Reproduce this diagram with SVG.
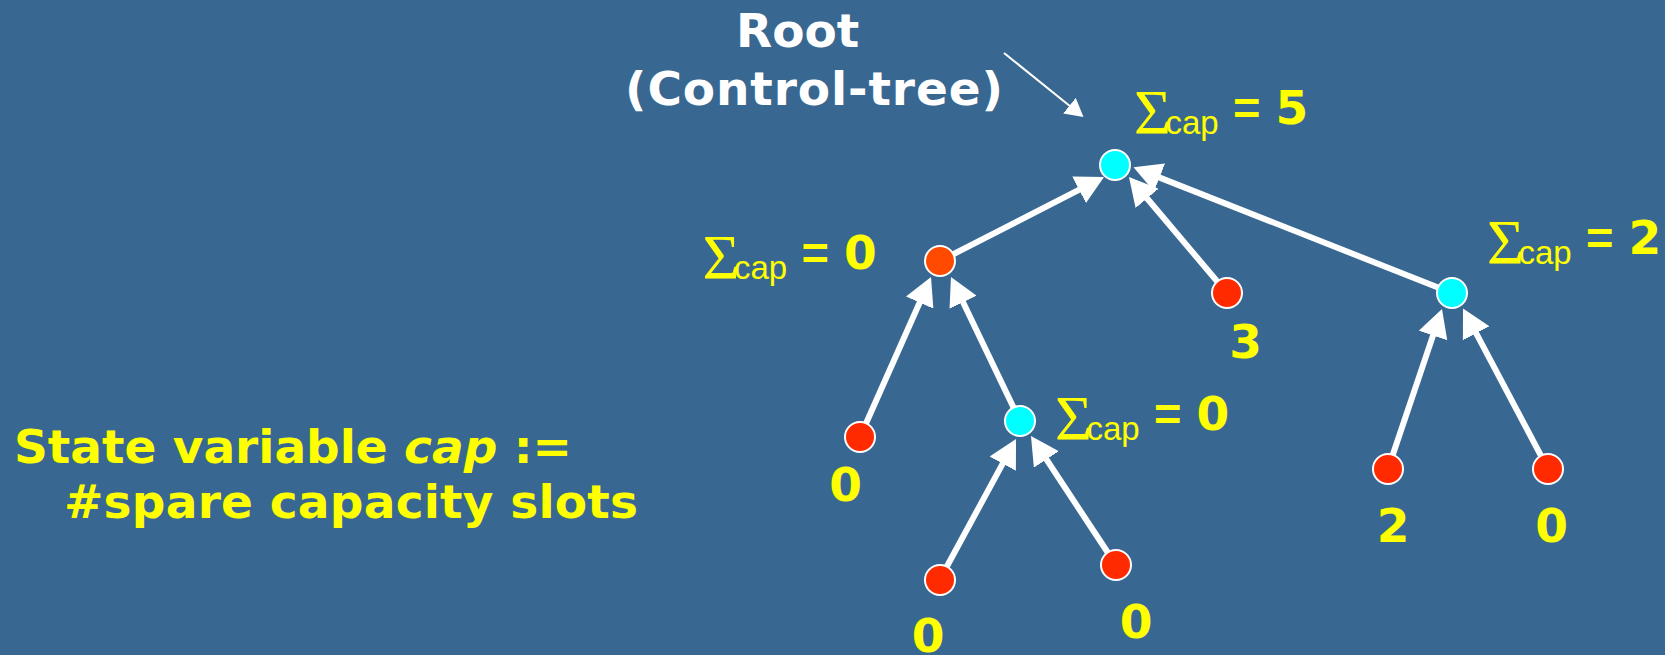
<svg xmlns="http://www.w3.org/2000/svg" width="1665" height="655" viewBox="0 0 1665 655">
  <defs>
    <style>
      .bold { font-family: "DejaVu Sans", "Liberation Sans", sans-serif; font-weight: bold; font-size: 47px; }
      .eq { font-family: "Liberation Sans", Arial, sans-serif; font-weight: bold; font-size: 47px; }
      .title { fill: #ffffff; }
      .yel { fill: #ffff00; }
      .sig { font-family: "Liberation Serif", serif; font-size: 64px; font-weight: normal; }
      .sub { font-family: "Liberation Sans", Arial, sans-serif; font-size: 33px; font-weight: normal; }
      .lbl { fill: #ffff00; }
      .edge { stroke: #ffffff; stroke-width: 6; fill: none; }
      .pointer { stroke: #ffffff; stroke-width: 2; fill: none; }
      .node { stroke: #ffffff; stroke-width: 2; }
      .cyan { fill: #00ffff; }
      .orange { fill: #ff4a00; }
      .red { fill: #ff2a00; }
    </style>
    <marker id="head" markerUnits="userSpaceOnUse" markerWidth="28" markerHeight="30" refX="8" refY="15" orient="auto">
      <path d="M0,0 L28,15 L0,30 z" fill="#ffffff"/>
    </marker>
    <marker id="thinhead" markerUnits="userSpaceOnUse" markerWidth="18" markerHeight="20" refX="8" refY="10" orient="auto">
      <path d="M0,0 L18,10 L0,20 z" fill="#ffffff"/>
    </marker>
  </defs>

  <rect x="0" y="0" width="1665" height="655" fill="#386891"/>

  <!-- caption -->
  <g id="caption">
    <text class="bold title" x="736" y="47">Root</text>
    <text class="bold title" x="625" y="105" textLength="378" lengthAdjust="spacing">(Control-tree)</text>
  </g>

  <g id="legend">
    <text class="bold yel" x="14" y="463">State variable <tspan font-style="italic">cap</tspan> :=</text>
    <text class="bold yel" x="64" y="518" textLength="574" lengthAdjust="spacing">#spare capacity slots</text>
  </g>

  <!-- connectors: child to parent -->
  <g id="connectors">
    <line class="pointer" x1="1004" y1="53" x2="1075.7" y2="110.7" marker-end="url(#thinhead)"/>
    <line class="edge" x1="940" y1="261" x2="1086.2" y2="186.1" marker-end="url(#head)"/>
    <line class="edge" x1="1227" y1="293" x2="1141.9" y2="192.3" marker-end="url(#head)"/>
    <line class="edge" x1="1452" y1="293" x2="1152.1" y2="174.6" marker-end="url(#head)"/>
    <line class="edge" x1="860" y1="437" x2="922.9" y2="295.3" marker-end="url(#head)"/>
    <line class="edge" x1="1020" y1="421" x2="959.6" y2="295" marker-end="url(#head)"/>
    <line class="edge" x1="939" y1="581" x2="1006.5" y2="456.6" marker-end="url(#head)"/>
    <line class="edge" x1="1116" y1="565" x2="1042" y2="452.7" marker-end="url(#head)"/>
    <line class="edge" x1="1388" y1="469" x2="1435.6" y2="327.9" marker-end="url(#head)"/>
    <line class="edge" x1="1548" y1="469" x2="1472.4" y2="326.2" marker-end="url(#head)"/>
  </g>

  <!-- tree nodes; each sum label is one text: Σ, subscript, then the bold value -->
  <g id="root">
    <circle class="node cyan" cx="1115" cy="165" r="15"/>
    <text class="lbl" transform="translate(1135,133.5)"><tspan class="sig" x="-1" y="0">Σ</tspan><tspan class="sub" x="30.5" y="0">cap</tspan><tspan class="eq" x="98" y="-10">=</tspan><tspan class="bold" x="140.5" y="-10">5</tspan></text>
  </g>

  <g id="node-a">
    <circle class="node orange" cx="940" cy="261" r="15"/>
    <text class="lbl" transform="translate(703.5,278.5)"><tspan class="sig" x="-1" y="0">Σ</tspan><tspan class="sub" x="30.5" y="0">cap</tspan><tspan class="eq" x="98" y="-10">=</tspan><tspan class="bold" x="140.5" y="-10">0</tspan></text>
  </g>

  <g id="node-b">
    <circle class="node cyan" cx="1452" cy="293" r="15"/>
    <text class="lbl" transform="translate(1488,263.5)"><tspan class="sig" x="-1" y="0">Σ</tspan><tspan class="sub" x="30.5" y="0">cap</tspan><tspan class="eq" x="98" y="-10">=</tspan><tspan class="bold" x="140.5" y="-10">2</tspan></text>
  </g>

  <g id="node-c">
    <circle class="node cyan" cx="1020" cy="421" r="15"/>
    <text class="lbl" transform="translate(1056,440)"><tspan class="sig" x="-1" y="0">Σ</tspan><tspan class="sub" x="30.5" y="0">cap</tspan><tspan class="eq" x="98" y="-10">=</tspan><tspan class="bold" x="140.5" y="-10">0</tspan></text>
  </g>

  <g id="leaf-3">
    <circle class="node red" cx="1227" cy="293" r="15"/>
    <text class="bold yel" x="1245.6" y="358" text-anchor="middle">3</text>
  </g>
  <g id="leaf-a0">
    <circle class="node red" cx="860" cy="437" r="15"/>
    <text class="bold yel" x="845.5" y="501" text-anchor="middle">0</text>
  </g>
  <g id="leaf-c0">
    <circle class="node red" cx="940" cy="580" r="15"/>
    <text class="bold yel" x="928" y="652" text-anchor="middle">0</text>
  </g>
  <g id="leaf-c1">
    <circle class="node red" cx="1116" cy="565" r="15"/>
    <text class="bold yel" x="1136" y="638" text-anchor="middle">0</text>
  </g>
  <g id="leaf-b2">
    <circle class="node red" cx="1388" cy="469" r="15"/>
    <text class="bold yel" x="1393" y="542" text-anchor="middle">2</text>
  </g>
  <g id="leaf-b0">
    <circle class="node red" cx="1548" cy="469" r="15"/>
    <text class="bold yel" x="1551.7" y="542" text-anchor="middle">0</text>
  </g>
</svg>
